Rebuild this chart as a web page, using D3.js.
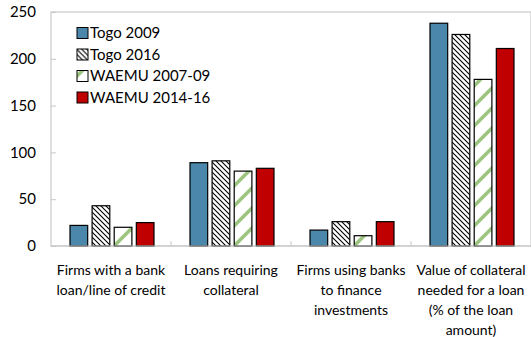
<!DOCTYPE html>
<html lang="en">
<head>
<meta charset="UTF-8">
<title>Togo bank access</title>
<style>
  body { margin: 0; background: #fff; }
  text { font-family: Lato, "Open Sans", sans-serif; fill: #000; }
</style>
</head>
<body>
<script src="https://cdn.jsdelivr.net/npm/d3@7"></script>
<script>
const categories = [
    ["Firms with a bank", "loan/line of credit"],
    ["Loans requiring", "collateral"],
    ["Firms using banks", "to finance", "investments"],
    ["Value of collateral", "needed for a loan", "(% of the loan", "amount)"]
];
const seriesNames = ["Togo 2009", "Togo 2016", "WAEMU 2007-09", "WAEMU 2014-16"];
const togo2009 = [22, 89, 17, 238];
const togo2016 = [43, 91, 26, 226];
const waemu0709 = [20, 80, 11, 178];
const waemu1416 = [25, 83, 26, 211];
const yTicks = [0, 50, 100, 150, 200, 250];

const series = [togo2009, togo2016, waemu0709, waemu1416];
const fills = ["#4a87aa", "url(#hatchBlack)", "url(#hatchGreen)", "#c00000"];

const W = 531, H = 337;
const plotL = 51, plotR = 531, plotT = 12, plotB = 246;

const svg = d3.select("body").append("svg")
    .attr("width", W)
    .attr("height", H);

const defs = svg.append("defs");

// black "\" hatch
const pb = defs.append("pattern")
    .attr("id", "hatchBlack")
    .attr("patternUnits", "userSpaceOnUse")
    .attr("width", 5).attr("height", 5);
pb.append("rect").attr("width", 5).attr("height", 5).attr("fill", "#fff");
pb.append("path")
    .attr("d", "M-1,-1 L6,6 M-1,4 L1,6 M4,-1 L6,1")
    .attr("stroke", "#000").attr("stroke-width", 1.1);

// green "/" stripes
const pg = defs.append("pattern")
    .attr("id", "hatchGreen")
    .attr("patternUnits", "userSpaceOnUse")
    .attr("width", 20).attr("height", 20);
pg.append("rect").attr("width", 20).attr("height", 20).attr("fill", "#fff");
pg.append("path")
    .attr("d", "M-2,22 L22,-2 M-12,12 L12,-12 M8,32 L32,8")
    .attr("stroke", "#9cc47f").attr("stroke-width", 3.5);

const x0 = d3.scaleBand()
    .domain(d3.range(categories.length))
    .range([plotL, plotR])
    .paddingInner(0)
    .paddingOuter(0);

const x1 = d3.scaleBand()
    .domain(d3.range(series.length))
    .range([19, x0.bandwidth() - 17])
    .paddingInner(0.2);

const y = d3.scaleLinear()
    .domain([0, 250])
    .range([plotB, plotT]);

// plot frame
svg.append("rect")
    .attr("x", plotL).attr("y", plotT)
    .attr("width", plotR - plotL).attr("height", plotB - plotT)
    .attr("fill", "none")
    .attr("stroke", "#c8c8c8")
    .attr("stroke-width", 1.2);

// y axis
const yAxis = svg.append("g")
    .attr("transform", `translate(${plotL},0)`)
    .call(d3.axisRight(y).tickValues(yTicks).tickSize(5).tickFormat(""));
yAxis.select(".domain").remove();
yAxis.selectAll("line").attr("stroke", "#c8c8c8");

svg.selectAll(".ylab")
    .data(yTicks)
    .join("text")
    .attr("class", "ylab")
    .attr("x", 36)
    .attr("y", d => y(d))
    .attr("dy", "0.35em")
    .attr("text-anchor", "end")
    .style("font-size", "15px")
    .text(d => d);

// x axis ticks between categories
svg.selectAll(".xtick")
    .data(d3.range(1, categories.length))
    .join("line")
    .attr("class", "xtick")
    .attr("x1", i => x0(i)).attr("x2", i => x0(i))
    .attr("y1", plotB).attr("y2", plotB - 5)
    .attr("stroke", "#c8c8c8");

// bars
series.forEach((vals, s) => {
    svg.append("g")
        .selectAll("rect")
        .data(vals)
        .join("rect")
        .attr("x", (d, i) => x0(i) + x1(s))
        .attr("y", d => y(d))
        .attr("width", x1.bandwidth())
        .attr("height", d => plotB - y(d))
        .attr("fill", fills[s])
        .attr("stroke", "#000")
        .attr("stroke-width", 1.2);
});

// x axis line on top of bars
svg.append("line")
    .attr("x1", plotL).attr("x2", plotR)
    .attr("y1", plotB).attr("y2", plotB)
    .attr("stroke", "#c8c8c8")
    .attr("stroke-width", 1.2);

// category labels
categories.forEach((lines, i) => {
    const t = svg.append("text")
        .attr("text-anchor", "middle")
        .style("font-size", "14px");
    lines.forEach((ln, k) => {
        t.append("tspan")
            .attr("x", x0(i) + x0.bandwidth() / 2)
            .attr("y", 275 + k * 20)
            .text(ln);
    });
});

// legend
const legend = svg.append("g");
seriesNames.forEach((name, i) => {
    const g = legend.append("g")
        .attr("transform", `translate(77,${33 + i * 21.5})`);
    g.append("rect")
        .attr("x", 0).attr("y", -5.5)
        .attr("width", 11).attr("height", 11)
        .attr("fill", fills[i])
        .attr("stroke", "#000")
        .attr("stroke-width", 1);
    g.append("text")
        .attr("x", 13)
        .attr("y", 0)
        .attr("dy", "0.35em")
        .style("font-size", "15px")
        .text(name);
});
</script>
</body>
</html>
